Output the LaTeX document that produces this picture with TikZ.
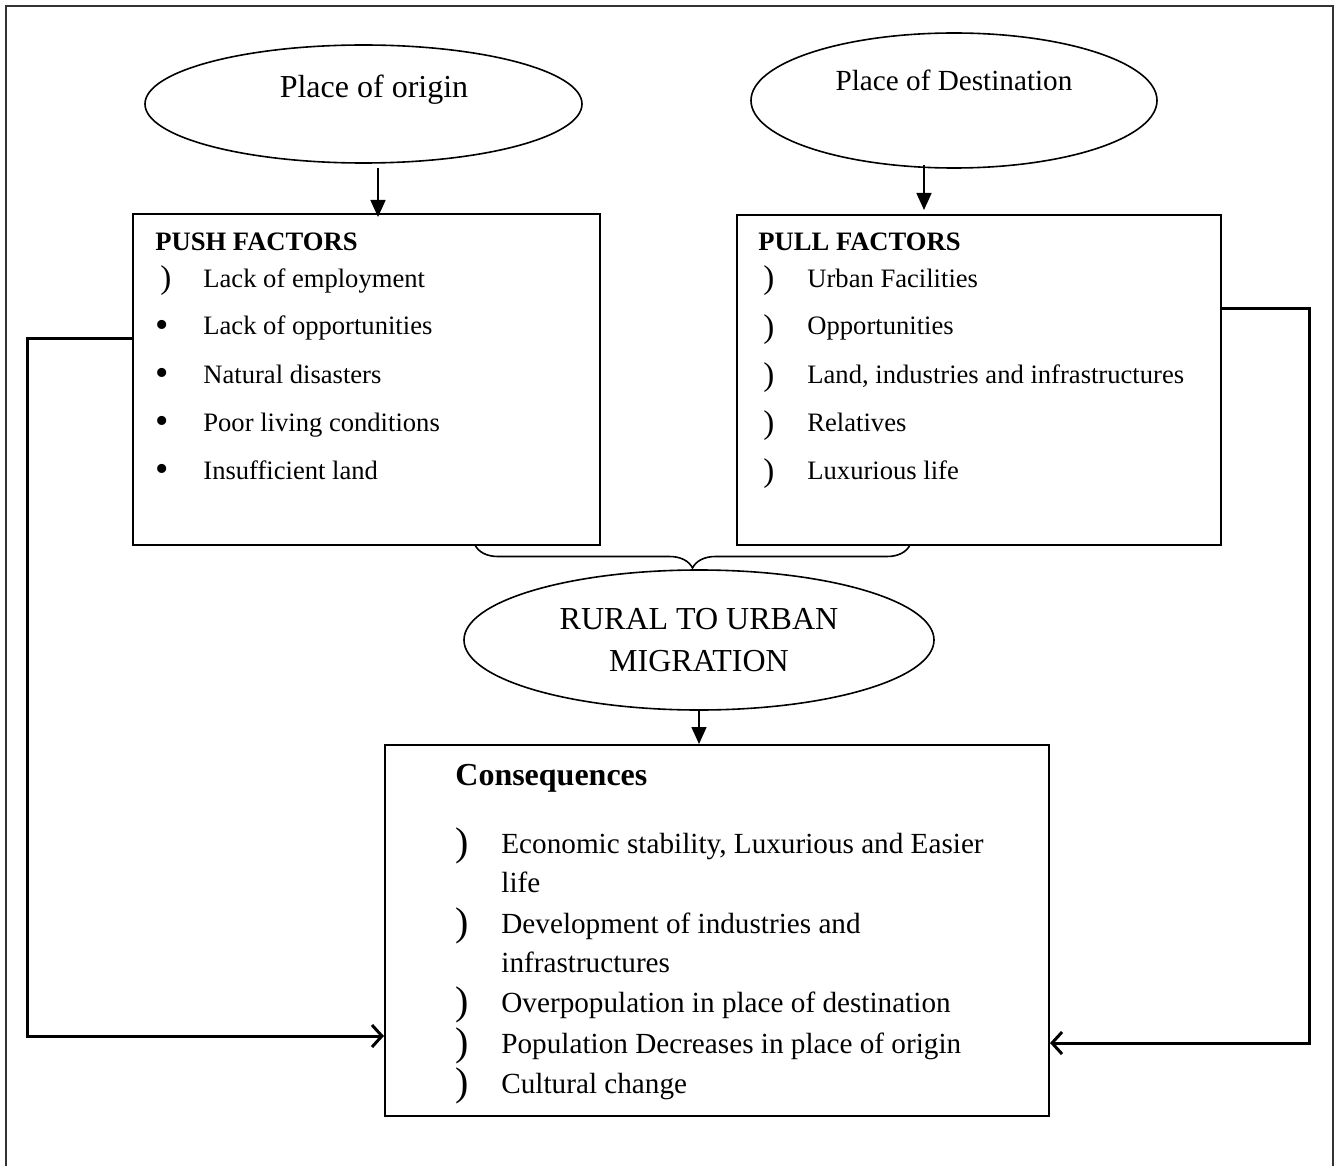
\documentclass[tikz,border=0pt]{standalone}
\usepackage{fontspec}
\setmainfont{Liberation Serif}
\usetikzlibrary{shapes.geometric,arrows.meta,decorations.pathreplacing}
\tikzset{box/.style = {draw, line width=1pt, inner sep=0pt},
         oval/.style = {draw, ellipse, line width=0.8pt, inner sep=0pt},
         fwd/.style = {-{Triangle[length=8.5pt,width=7.5pt]}, line width=0.8pt},
         back/.style = {-{Straight Barb[length=5pt,width=11pt]}, line width=1.5pt},
         item/.style = {anchor=base west, inner sep=0pt, font=\fontsize{13.3}{16}\selectfont},
         conitem/.style = {anchor=base west, inner sep=0pt, font=\fontsize{14.6}{18}\selectfont},
         jmark/.style = {anchor=base west, inner sep=0pt, font=\fontsize{16.5}{18}\selectfont},
         bigjmark/.style = {anchor=base west, inner sep=0pt, font=\fontsize{20}{22}\selectfont},
         dotmark/.style = {anchor=base west, inner sep=0pt, font=\fontsize{19}{20}\selectfont}}

\begin{document}
\begin{tikzpicture}[x=0.5pt,y=-0.5pt]
\useasboundingbox (0,0) rectangle (1338,1166);
\draw [line width=1pt, black!80] (6,1166) -- (6,6) -- (1333,6) -- (1333,1166);

% ovals
\node [oval, minimum width=218.5pt, minimum height=59pt] (origin) at (363.5,104) {};
\node [font=\fontsize{16}{18}\selectfont] (originlbl) at (374,90) {Place of origin};
\node [oval, minimum width=203pt, minimum height=67.5pt] (dest) at (954,100.5) {};
\node [font=\fontsize{14.6}{18}\selectfont] (destlbl) at (954,80) {Place of Destination};
\node [oval, minimum width=235pt, minimum height=70pt, align=center,
       font=\fontsize{16}{21}\selectfont] (migr) at (699,640) {RURAL TO URBAN\\MIGRATION};

% boxes
\node [box, minimum width=233.5pt, minimum height=165.5pt] (push) at (366.5,379.5) {};
\node [box, minimum width=242pt, minimum height=165pt] (pull) at (979,380) {};
\node [box, minimum width=332pt, minimum height=185.5pt] (cons) at (717,930.5) {};

% push factors
\node [item, font=\fontsize{13.3}{16}\selectfont\bfseries] (pushttl) at (155,250) {PUSH FACTORS};
\node [jmark] (pm1) at (160,289) {)};
\node [item] (p1) at (203,287) {Lack of employment};
\foreach \t [count=\i from 2] in {Lack of opportunities, Natural disasters,
                                  Poor living conditions, Insufficient land} {
  \node [dotmark] (pm\i) at (155,289+48*\i-48) {\textbullet};
  \node [item] (p\i) at (203,287+48*\i-48) {\t};
}

% pull factors
\node [item, font=\fontsize{13.3}{16}\selectfont\bfseries] (pullttl) at (758,250) {PULL FACTORS};
\foreach \t [count=\i] in {Urban Facilities, Opportunities,
                           {Land, industries and infrastructures}, Relatives, Luxurious life} {
  \node [jmark] (qm\i) at (763,289+48*\i-48) {)};
  \node [item] (q\i) at (807,287+48*\i-48) {\t};
}

% consequences
\node [item, font=\fontsize{16}{18}\selectfont\bfseries] (consttl) at (455,785) {Consequences};
\node [bigjmark] (cm1) at (455,855) {)};
\node [conitem] (c1) at (501,853) {Economic stability, Luxurious and Easier};
\node [conitem] (c1b) at (501,892) {life};
\node [bigjmark] (cm2) at (455,935) {)};
\node [conitem] (c2) at (501,933) {Development of industries and};
\node [conitem] (c2b) at (501,972) {infrastructures};
\node [bigjmark] (cm3) at (455,1014) {)};
\node [conitem] (c3) at (501,1012) {Overpopulation in place of destination};
\node [bigjmark] (cm4) at (455,1055) {)};
\node [conitem] (c4) at (501,1053) {Population Decreases in place of origin};
\node [bigjmark] (cm5) at (455,1095) {)};
\node [conitem] (c5) at (501,1093) {Cultural change};

% connectors
\draw [fwd] ([xshift=7.25pt,yshift=-2pt]origin.south) -- ([xshift=7.25pt,yshift=-2pt]origin.south |- push.north);
\draw [fwd] ([xshift=-15pt,yshift=2pt]dest.south) -- ([xshift=-15pt,yshift=2pt]dest.south |- pull.north);
\draw [fwd] (migr.south) -- (migr.south |- cons.north);
\draw [decorate, decoration={brace, mirror, amplitude=11.5pt}, line width=0.8pt] (475,545) -- (910,545);
\draw [back] ([yshift=20.75pt]push.west) -- ++(-105,0) |- ([yshift=-52.75pt]cons.west);
\draw [back] ([yshift=36pt]pull.east) -- ++(87,0) |- ([yshift=-56.25pt]cons.east);
\end{tikzpicture}
\end{document}
